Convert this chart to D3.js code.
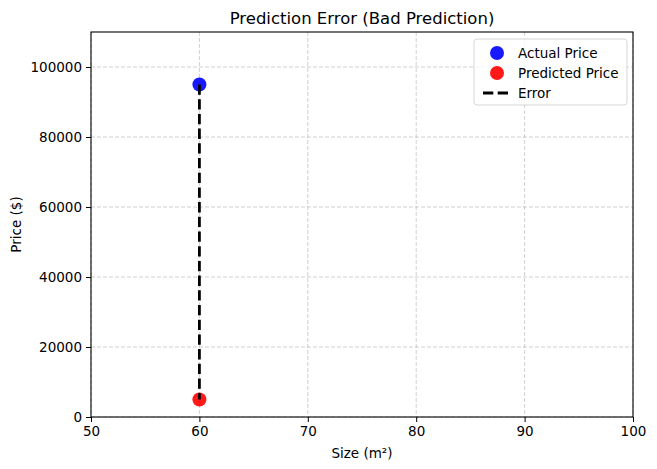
<!DOCTYPE html>
<html>
<head>
<meta charset="utf-8">
<script src="https://cdn.jsdelivr.net/npm/d3@7"></script>
<style>
  body { margin: 0; background: #fff; }
  text { font-family: "DejaVu Sans", sans-serif; fill: #000; }
</style>
</head>
<body>
<script>
var width = 657;
var height = 469;

// data
var sizes = [60];
var actualPrices = [95000];
var predictedPrices = [5000];
var xTicks = [50, 60, 70, 80, 90, 100];
var yTicks = [0, 20000, 40000, 60000, 80000, 100000];
var legendLabels = ["Actual Price", "Predicted Price", "Error"];

var pLeft = 91, pRight = 633, pTop = 32, pBottom = 417;

var svg = d3.select("body").append("svg")
  .attr("width", width)
  .attr("height", height);

var x = d3.scaleLinear().domain([50, 100]).range([pLeft, pRight]);
var y = d3.scaleLinear().domain([0, 110000]).range([pBottom, pTop]);

// grid
var grid = svg.append("g");
grid.selectAll(".gx")
  .data(xTicks)
  .enter().append("line")
  .attr("x1", function (d) { return x(d); })
  .attr("x2", function (d) { return x(d); })
  .attr("y1", pTop).attr("y2", pBottom)
  .style("stroke", "#b0b0b0").style("stroke-opacity", 0.6)
  .style("stroke-width", 1).style("stroke-dasharray", "4,2");
grid.selectAll(".gy")
  .data(yTicks)
  .enter().append("line")
  .attr("y1", function (d) { return y(d); })
  .attr("y2", function (d) { return y(d); })
  .attr("x1", pLeft).attr("x2", pRight)
  .style("stroke", "#b0b0b0").style("stroke-opacity", 0.6)
  .style("stroke-width", 1).style("stroke-dasharray", "4,2");

// points
svg.selectAll(".actual")
  .data(sizes)
  .enter().append("circle")
  .attr("cx", function (d) { return x(d); })
  .attr("cy", function (d, i) { return y(actualPrices[i]); })
  .attr("r", 7)
  .style("fill", "#0000ff").style("fill-opacity", 0.9);

svg.selectAll(".pred")
  .data(sizes)
  .enter().append("circle")
  .attr("cx", function (d) { return x(d); })
  .attr("cy", function (d, i) { return y(predictedPrices[i]); })
  .attr("r", 7)
  .style("fill", "#ff0000").style("fill-opacity", 0.9);

// error lines
svg.selectAll(".err")
  .data(sizes)
  .enter().append("line")
  .attr("x1", function (d) { return x(d); })
  .attr("x2", function (d) { return x(d); })
  .attr("y1", function (d, i) { return y(actualPrices[i]); })
  .attr("y2", function (d, i) { return y(predictedPrices[i]); })
  .style("stroke", "#000").style("stroke-width", 2.8)
  .style("stroke-dasharray", "10.3,4.4");

// axes
var xAxis = svg.append("g")
  .attr("transform", "translate(0," + pBottom + ")")
  .call(d3.axisBottom(x).tickValues(xTicks).tickSize(5).tickPadding(4));
var yAxis = svg.append("g")
  .attr("transform", "translate(" + pLeft + ",0)")
  .call(d3.axisLeft(y).tickValues(yTicks).tickSize(5).tickPadding(4).tickFormat(d3.format("d")));
[xAxis, yAxis].forEach(function (a) {
  a.select(".domain").remove();
  a.selectAll("text").style("font-size", "13.5px").style("font-family", "DejaVu Sans");
  a.selectAll("line").style("stroke", "#000").style("stroke-width", 1);
});

svg.append("rect")
  .attr("x", pLeft).attr("y", pTop)
  .attr("width", pRight - pLeft).attr("height", pBottom - pTop)
  .style("fill", "none").style("stroke", "#000").style("stroke-width", 1.1);

// labels
svg.append("text")
  .attr("x", (pLeft + pRight) / 2).attr("y", 24)
  .attr("text-anchor", "middle")
  .style("font-size", "16.5px")
  .text("Prediction Error (Bad Prediction)");
svg.append("text")
  .attr("x", (pLeft + pRight) / 2).attr("y", 458)
  .attr("text-anchor", "middle")
  .style("font-size", "13.5px")
  .text("Size (m²)");
svg.append("text")
  .attr("transform", "translate(21," + (pTop + pBottom) / 2 + ") rotate(-90)")
  .attr("text-anchor", "middle")
  .style("font-size", "13.5px")
  .text("Price ($)");

// legend
var lg = svg.append("g").attr("transform", "translate(474,39)");
lg.append("rect")
  .attr("width", 153).attr("height", 66).attr("rx", 3)
  .style("fill", "#fff").style("fill-opacity", 0.8)
  .style("stroke", "#d6d6d6").style("stroke-width", 1);
var rowY = [14, 34, 54];
lg.selectAll(".li")
  .data(legendLabels)
  .enter().append("text")
  .attr("x", 44)
  .attr("y", function (d, i) { return rowY[i] + 5; })
  .style("font-size", "13.5px")
  .text(function (d) { return d; });
lg.append("circle").attr("cx", 23).attr("cy", rowY[0]).attr("r", 7)
  .style("fill", "#0000ff").style("fill-opacity", 0.9);
lg.append("circle").attr("cx", 23).attr("cy", rowY[1]).attr("r", 7)
  .style("fill", "#ff0000").style("fill-opacity", 0.9);
lg.append("line").attr("x1", 9).attr("x2", 37).attr("y1", rowY[2]).attr("y2", rowY[2])
  .style("stroke", "#000").style("stroke-width", 2.8)
  .style("stroke-dasharray", "10.3,4.4");
</script>
</body>
</html>
